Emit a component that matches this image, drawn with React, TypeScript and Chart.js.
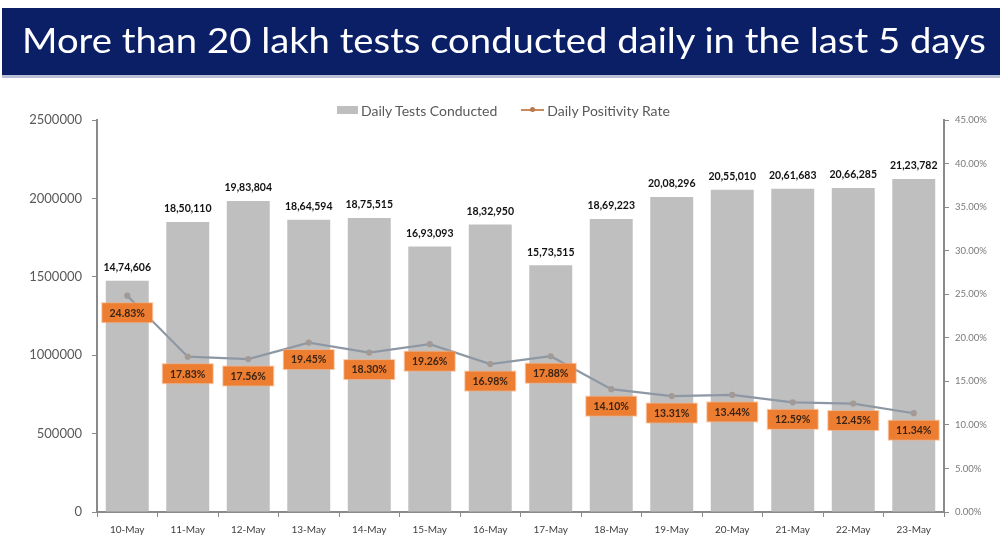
import React, { useEffect, useRef } from "react";
import { Chart, registerables } from "chart.js";

Chart.register(...registerables);

const titleText = "More than 20 lakh tests conducted daily in the last 5 days";
const categories = ["10-May", "11-May", "12-May", "13-May", "14-May", "15-May", "16-May", "17-May", "18-May", "19-May", "20-May", "21-May", "22-May", "23-May"];
const dailyTests = [1474606, 1850110, 1983804, 1864594, 1875515, 1693093, 1832950, 1573515, 1869223, 2008296, 2055010, 2061683, 2066285, 2123782];
const positivityRate = [24.83, 17.83, 17.56, 19.45, 18.3, 19.26, 16.98, 17.88, 14.1, 13.31, 13.44, 12.59, 12.45, 11.34];
const leftTicks = [0, 500000, 1000000, 1500000, 2000000, 2500000];
const rightTicks = [0, 5, 10, 15, 20, 25, 30, 35, 40, 45];

const BAR_LABEL = "Daily Tests Conducted";
const LINE_LABEL = "Daily Positivity Rate";

function formatIndian(n: number): string {
  const s = String(Math.round(n));
  if (s.length <= 3) return s;
  const last3 = s.slice(-3);
  const rest = s.slice(0, -3).replace(/\B(?=(\d{2})+(?!\d))/g, ",");
  return rest + "," + last3;
}

const labelPlugin = {
  id: "valueLabels",
  afterDatasetsDraw(chart: any) {
    const ctx = chart.ctx;
    const barMeta = chart.getDatasetMeta(0);
    const lineMeta = chart.getDatasetMeta(1);
    ctx.save();
    ctx.textAlign = "center";
    ctx.textBaseline = "middle";
    ctx.font = "bold 10.5px Lato";
    ctx.fillStyle = "#111111";
    barMeta.data.forEach((el: any, i: number) => {
      ctx.fillText(formatIndian(dailyTests[i]), el.x, el.y - 13);
    });
    ctx.font = "bold 10.5px Lato";
    lineMeta.data.forEach((el: any, i: number) => {
      const cx = el.x;
      const cy = el.y + 17;
      const w = 50;
      const h = 19;
      ctx.fillStyle = "rgba(246,170,120,0.6)";
      ctx.fillRect(cx - w / 2 - 1, cy - h / 2 - 1, w + 2, h + 2);
      ctx.fillStyle = "#ed7d31";
      ctx.fillRect(cx - w / 2, cy - h / 2, w, h);
      ctx.fillStyle = "#3b2414";
      ctx.fillText(positivityRate[i].toFixed(2) + "%", cx, cy + 0.5);
    });
    ctx.restore();
  },
};

export default function App() {
  const ref = useRef<HTMLCanvasElement | null>(null);

  useEffect(() => {
    if (!ref.current) return;
    const axisColor = "#8a8a8a";
    const chart = new Chart(ref.current, {
      type: "bar",
      data: {
        labels: categories,
        datasets: [
          {
            type: "bar",
            label: BAR_LABEL,
            data: dailyTests,
            backgroundColor: "#bfbfbf",
            barPercentage: 0.71,
            categoryPercentage: 1,
            yAxisID: "y",
            order: 1,
          },
          {
            type: "line",
            label: LINE_LABEL,
            data: positivityRate,
            borderColor: "#8e98a4",
            backgroundColor: "#9a9a9a",
            borderWidth: 2.2,
            pointRadius: 2,
            pointBackgroundColor: "#a39a95",
            pointBorderColor: "#a39a95",
            tension: 0,
            yAxisID: "y1",
            order: 0,
          } as any,
        ],
      },
      options: {
        responsive: false,
        animation: false,
        maintainAspectRatio: false,
        layout: { padding: { top: 120, left: 0, right: 0, bottom: 0 } },
        plugins: {
          legend: { display: false },
          title: { display: false },
          tooltip: { enabled: false },
        },
        scales: {
          x: {
            offset: true,
            grid: {
              display: true,
              drawOnChartArea: false,
              drawTicks: true,
              tickLength: 5,
              color: axisColor,
              offset: true,
            },
            border: { display: true, color: axisColor, width: 2 },
            ticks: {
              color: "#404040",
              font: { family: "Lato", size: 10 },
              padding: 7,
              maxRotation: 0,
              autoSkip: false,
            },
            afterFit(scale: any) {
              scale.height = 29;
            },
          },
          y: {
            position: "left",
            min: 0,
            max: 2500000,
            afterBuildTicks(scale: any) {
              scale.ticks = leftTicks.map((v) => ({ value: v }));
            },
            grid: {
              display: true,
              drawOnChartArea: false,
              drawTicks: true,
              tickLength: 5,
              color: axisColor,
            },
            border: { display: true, color: axisColor, width: 2 },
            ticks: {
              color: "#595959",
              font: { family: "Lato", size: 13 },
              padding: 10,
              callback: (v: any) => String(v),
            },
            afterFit(scale: any) {
              scale.width = 97;
            },
          },
          y1: {
            position: "right",
            min: 0,
            max: 45,
            afterBuildTicks(scale: any) {
              scale.ticks = rightTicks.map((v) => ({ value: v }));
            },
            grid: {
              display: true,
              drawOnChartArea: false,
              drawTicks: true,
              tickLength: 5,
              color: axisColor,
            },
            border: { display: true, color: axisColor, width: 2 },
            ticks: {
              color: "#7a7a7a",
              font: { family: "Lato", size: 9.5 },
              padding: 6,
              callback: (v: any) => Number(v).toFixed(2) + "%",
            },
            afterFit(scale: any) {
              scale.width = 56;
            },
          },
        },
      },
      plugins: [labelPlugin],
    });
    return () => chart.destroy();
  }, []);

  return (
    <div style={{ position: "absolute", left: 0, top: 0, width: 1000, height: 541, background: "#ffffff", overflow: "hidden" }}>
      <canvas ref={ref} width={1000} height={541} style={{ position: "absolute", left: 0, top: 0, width: 1000, height: 541 }} />
      <div
        style={{
          position: "absolute",
          left: 2,
          top: 8,
          width: 998,
          height: 67,
          background: "#0b1f66",
          borderBottom: "3px solid #b9c0d6",
          color: "#ffffff",
          fontFamily: "Lato, 'Open Sans', sans-serif",
          fontSize: 35,
          lineHeight: "67px",
          whiteSpace: "nowrap",
          boxSizing: "content-box",
        }}
      >
        <span
          style={{
            position: "absolute",
            left: 20,
            top: -2,
            transform: "scaleX(1.093)",
            transformOrigin: "left center",
          }}
        >
          {titleText}
        </span>
      </div>
      <div
        style={{
          position: "absolute",
          left: 337,
          top: 100,
          height: 20,
          display: "flex",
          alignItems: "center",
          fontFamily: "Lato, 'Open Sans', sans-serif",
          fontSize: 14,
          color: "#595959",
          whiteSpace: "nowrap",
        }}
      >
        <span style={{ display: "inline-block", width: 21, height: 8, background: "#bfbfbf", marginRight: 3 }} />
        <span>{BAR_LABEL}</span>
        <span style={{ display: "inline-block", position: "relative", width: 23, height: 2, background: "#c98a5e", marginLeft: 24, marginRight: 3 }}>
          <span style={{ position: "absolute", left: 9, top: -2, width: 5, height: 5, borderRadius: 3, background: "#b9784c" }} />
        </span>
        <span>{LINE_LABEL}</span>
      </div>
    </div>
  );
}
